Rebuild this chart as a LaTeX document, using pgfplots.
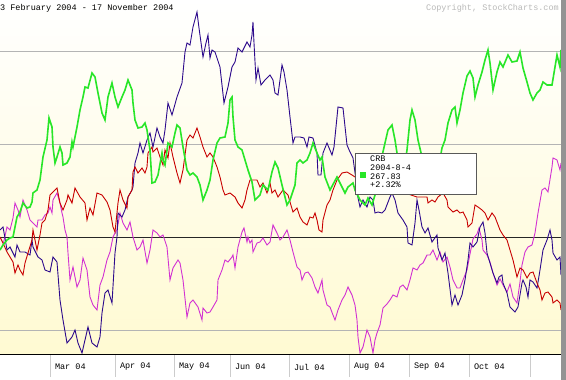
\documentclass[border=0pt]{standalone}
\usepackage{pgfplots}
\usepackage{pgfplotstable}
\usepackage{fontspec}
\pgfplotsset{compat=1.18}
\newfontfamily\mono{Liberation Mono}
\definecolor{cnavy}{RGB}{45,10,140}
\definecolor{cred}{RGB}{200,0,0}
\definecolor{cgreen}{RGB}{40,230,40}
\definecolor{cmag}{RGB}{210,50,210}
\definecolor{bgyel}{RGB}{255,250,210}
\definecolor{gridg}{RGB}{180,180,180}

% x = pixel column, y = pixel row from the top of the chart
\pgfplotstableread{
0 230
3 227
5 238
7 250
10 247
15 257
17 245
20 252
25 252
30 255
32 240
33 247
38 257
42 260
45 270
50 272
53 257
57 262
60 300
63 320
67 343
72 337
75 330
78 343
82 353
85 340
88 327
92 343
97 347
100 337
102 313
105 293
108 290
112 303
115 253
117 237
118 213
122 217
125 210
128 197
132 190
133 187
135 163
138 153
140 143
143 153
147 140
150 133
153 147
157 128
160 137
163 143
165 130
168 103
172 115
177 97
182 83
185 52
187 43
190 45
193 27
197 12
199 28
203 57
206 43
208 35
210 58
212 50
215 52
220 67
224 103
228 87
232 67
235 62
238 48
242 52
247 42
250 47
252 35
253 22
254 43
256 80
258 68
261 85
265 80
270 75
273 80
275 93
278 95
282 65
284 72
287 90
290 117
293 143
295 137
300 137
304 138
307 147
309 137
313 138
317 153
318 175
321 175
323 153
327 143
332 155
334 147
338 107
343 108
347 145
350 152
353 158
356 180
357 193
360 207
363 200
367 207
370 197
373 200
375 213
378 212
382 213
385 210
390 197
392 193
395 200
398 213
403 220
407 227
408 243
412 245
415 223
417 200
419 210
422 227
425 233
428 228
432 242
437 235
438 248
442 260
445 253
448 273
452 305
455 295
458 305
462 295
465 280
468 260
470 243
473 247
477 242
480 227
483 222
485 233
487 253
490 263
493 273
497 283
499 277
502 275
503 283
507 293
510 307
515 312
518 307
522 283
523 280
526 287
528 297
530 280
533 282
537 288
540 270
543 250
547 240
550 230
552 240
553 253
557 260
560 257
561 275
}\navydata

\pgfplotstableread{
0 237
3 243
7 252
10 257
13 262
15 273
18 265
20 270
23 275
25 263
28 253
32 240
33 230
37 250
40 235
42 223
45 220
48 210
50 195
53 192
57 188
60 203
63 210
67 200
68 195
72 203
75 188
80 197
85 203
87 220
90 208
93 215
97 193
102 195
107 202
110 210
113 227
115 232
118 203
120 190
123 200
127 208
128 197
132 190
133 172
135 167
138 173
142 168
145 173
147 167
148 153
152 147
153 152
157 148
160 157
163 165
165 150
168 158
170 143
173 157
177 173
180 183
183 170
187 140
190 135
193 138
197 128
200 137
203 147
207 157
210 153
213 157
217 167
220 177
223 190
225 195
230 193
235 197
238 203
242 208
245 200
247 190
250 180
257 180
260 187
263 183
267 193
270 183
272 193
275 190
278 197
283 190
288 195
290 202
293 212
297 208
300 217
303 222
307 225
310 217
313 218
315 213
317 220
319 230
322 232
323 220
327 205
330 200
333 190
337 180
342 173
347 172
352 175
355 177
365 182
375 185
385 190
395 188
405 193
417 197
427 197
428 203
432 200
435 202
438 197
443 193
447 200
448 207
453 212
457 210
460 213
463 212
467 220
468 227
472 223
475 205
478 207
482 210
485 213
488 220
492 213
495 217
500 230
503 235
507 240
510 250
513 260
517 277
520 268
523 270
527 278
530 273
533 272
537 283
540 290
542 300
545 293
548 292
552 297
553 303
557 300
560 303
561 310
}\reddata

\pgfplotstableread{
0 250
3 245
7 240
10 238
13 237
17 217
20 212
23 203
27 208
30 207
32 202
33 193
37 190
40 180
43 157
47 140
49 118
52 127
53 147
55 163
57 157
60 147
62 153
63 165
67 163
70 157
72 142
73 147
77 127
80 110
83 97
85 87
88 88
92 73
95 77
98 93
102 113
105 120
108 97
112 83
115 97
118 107
122 97
125 90
128 80
132 90
133 103
135 120
138 128
142 127
145 123
147 130
148 137
150 150
152 183
155 182
158 175
162 153
163 160
165 165
168 143
172 147
175 133
177 125
180 128
183 147
187 170
190 175
193 173
197 177
200 185
203 200
207 190
210 180
213 160
217 143
220 138
225 137
228 123
230 100
232 97
233 117
235 140
238 147
242 150
245 160
248 170
252 182
255 200
260 195
263 185
268 190
272 172
275 162
278 168
282 185
287 205
290 200
295 185
297 163
300 160
303 163
307 160
310 153
313 143
317 153
320 160
322 157
325 177
330 190
337 177
342 187
345 193
348 187
353 183
355 190
360 200
365 205
368 198
372 205
375 195
380 165
385 143
388 130
392 125
395 140
397 153
400 165
403 177
407 150
410 120
412 110
415 120
418 140
422 157
428 175
433 185
438 170
442 148
445 140
448 123
452 110
455 107
457 123
460 110
463 93
467 76
470 71
473 78
475 97
478 85
482 72
485 60
488 50
490 63
493 90
497 72
500 62
503 67
508 55
512 62
517 61
520 52
523 68
527 82
530 93
533 100
537 93
540 90
543 82
547 85
552 85
555 67
557 55
560 67
561 50
}\greendata

\pgfplotstableread{
0 250
3 245
7 227
10 230
13 218
15 203
18 210
20 217
23 200
27 210
30 220
33 223
37 227
38 220
42 220
45 215
48 213
50 207
52 213
53 200
57 193
60 203
62 213
63 217
65 230
67 237
68 253
70 280
73 267
77 287
80 280
83 258
87 270
90 297
93 305
97 310
100 285
103 277
107 260
110 252
113 237
115 233
117 230
120 213
123 223
127 230
130 222
133 237
137 250
140 247
143 240
147 263
150 250
153 230
157 233
160 237
163 235
167 247
170 280
173 268
178 260
180 263
183 280
187 317
190 303
193 300
198 307
202 320
203 308
207 313
210 312
213 307
217 300
218 280
222 270
225 260
228 262
232 257
233 255
235 268
238 247
242 232
244 228
247 242
248 237
250 243
252 240
253 252
257 243
260 242
263 238
267 245
270 242
273 225
277 233
280 240
283 237
287 230
290 240
293 252
297 267
300 270
302 280
305 273
308 272
312 278
315 287
318 293
322 280
323 290
327 305
330 307
333 315
335 320
338 310
342 300
345 295
348 287
352 295
355 305
357 320
358 337
360 353
363 347
367 330
370 337
373 353
375 340
377 333
380 325
383 308
387 304
390 300
393 295
397 297
400 287
403 285
407 290
410 280
413 268
417 270
420 265
423 263
427 255
430 255
433 250
437 260
440 252
443 262
447 257
450 267
453 280
457 288
460 288
463 280
467 270
470 254
473 239
477 234
479 228
482 240
483 250
487 255
490 262
493 273
497 285
500 279
503 285
507 292
510 284
513 297
517 303
520 282
522 265
525 252
528 247
532 245
535 233
538 213
542 190
545 188
548 192
552 167
553 158
557 160
560 170
561 163
}\magdata

\begin{document}
\begin{tikzpicture}[x=1pt,y=1pt]
\useasboundingbox (0,0) rectangle (566,380);
\begin{axis}[
  at={(0,26)}, anchor=south west,
  scale only axis, width=561pt, height=354pt,
  xmin=0, xmax=561, ymin=0, ymax=354,
  axis x line*=bottom, axis y line=none,
  x axis line style={black, line width=0.9pt, -},
  xtick={50,115,174,230,289,349,409,469,530},
  xticklabels={Mar 04,Apr 04,May 04,Jun 04,Jul 04,Aug 04,Sep 04,Oct 04,},
  tick align=outside, major tick length=23pt,
  xtick style={gray!40, line width=0.8pt},
  xticklabel style={anchor=west, xshift=1.5pt, yshift=10pt, font=\mono\fontsize{8.5}{10}\selectfont},
  ytick=\empty,
  axis background/.style={top color=white, bottom color=bgyel},
  clip=true,
]
\draw[gridg, line width=0.8pt] (axis cs:0,303) -- (axis cs:561,303);
\draw[gridg, line width=0.8pt] (axis cs:0,210) -- (axis cs:561,210);
\draw[gridg, line width=0.8pt] (axis cs:0,24) -- (axis cs:561,24);
\draw[black!85, line width=0.9pt] (axis cs:0,117) -- (axis cs:561,117);
\addplot[cmag, line width=0.9pt, mark=none] table[x index=0, y expr=354-\thisrowno{1}] {\magdata};
\addplot[cnavy, line width=0.9pt, mark=none] table[x index=0, y expr=354-\thisrowno{1}] {\navydata};
\addplot[cred, line width=0.9pt, mark=none] table[x index=0, y expr=354-\thisrowno{1}] {\reddata};
\addplot[cgreen, line width=1.6pt, mark=none] table[x index=0, y expr=354-\thisrowno{1}] {\greendata};
\draw[fill=white, draw=gray!70!black, line width=0.8pt] (axis cs:355,201) rectangle (axis cs:476,160);
\fill[cgreen] (axis cs:360,182) rectangle (axis cs:366,176);
\node[anchor=north west, inner sep=0pt, align=left, font=\mono\fontsize{8.5}{8.7}\selectfont] at (axis cs:370,198) {CRB\\2004-8-4\\267.83\\+2.32\%};
\end{axis}
\node[anchor=west, inner sep=0pt, font=\mono\fontsize{8.5}{10}\selectfont] at (0,372) {3 February 2004 - 17 November 2004};
\node[anchor=east, inner sep=0pt, text=gray!55, font=\mono\fontsize{8.5}{10}\selectfont] at (559,372) {Copyright, StockCharts.com};
\fill[gray!85] (561,0) rectangle (566,380);
\end{tikzpicture}
\end{document}
